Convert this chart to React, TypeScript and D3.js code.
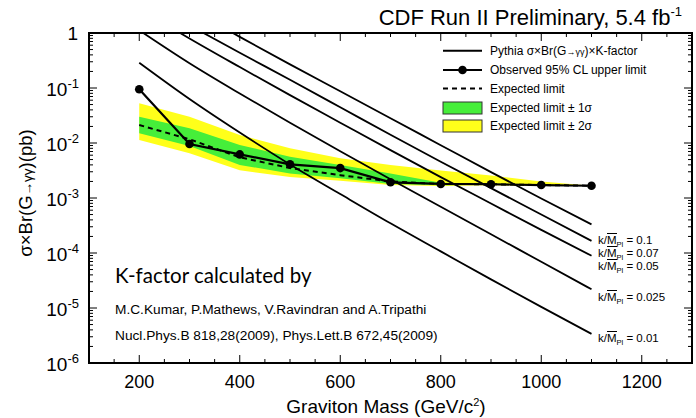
import React from 'react';
import * as d3 from 'd3';

// graviton masses (GeV/c^2)
const masses = [200, 300, 400, 500, 600, 700, 800, 900, 1000, 1100];

// limits in pb
const observed = [0.095, 0.0096, 0.0062, 0.0041, 0.0035, 0.00193, 0.0018, 0.00178, 0.00172, 0.00167];
const expected = [0.0212, 0.0117, 0.0055, 0.0035, 0.0026, 0.002, 0.0018, 0.00178, 0.00172, 0.00167];
const band1Hi = [0.0301, 0.0185, 0.0092, 0.00565, 0.004, 0.0028, 0.0019, 0.00182, 0.00175, 0.00167];
const band1Lo = [0.015, 0.0088, 0.004, 0.0028, 0.00228, 0.0018, 0.0017, 0.00174, 0.0017, 0.00167];
const band2Hi = [0.0526, 0.0301, 0.014, 0.008, 0.00526, 0.004, 0.00316, 0.00257, 0.002, 0.00167];
const band2Lo = [0.0113, 0.0065, 0.0032, 0.0024, 0.00206, 0.00172, 0.00166, 0.0017, 0.00168, 0.00167];

// Pythia sigma x Br x K-factor, one per k/M_Pl
const pythia0p1 = [9.0, 2.8, 0.851, 0.269, 0.0871, 0.0282, 0.00912, 0.00295, 0.000977, 0.000331];
const pythia0p07 = [4.4, 1.38, 0.437, 0.141, 0.0447, 0.0141, 0.00457, 0.00151, 0.000501, 0.000166];
const pythia0p05 = [2.8, 0.794, 0.24, 0.0741, 0.0234, 0.00741, 0.0024, 0.000794, 0.000263, 0.0000891];
const pythia0p025 = [1.12, 0.282, 0.0794, 0.0234, 0.00708, 0.00219, 0.000692, 0.000219, 0.0000692, 0.0000219];
const pythia0p01 = [0.288, 0.0631, 0.0155, 0.00407, 0.00118, 0.000347, 0.000107, 0.0000331, 0.0000105, 0.00000339];

const couplings = ['0.1', '0.07', '0.05', '0.025', '0.01'];
const xTickLabels = [200, 400, 600, 800, 1000, 1200];

const W = 696, H = 418;
const L = 89, R = 692, T = 33, B = 363;
const font = '"Liberation Sans", Arial, Helvetica, sans-serif';
const GREEN = '#46ee3a';
const YELLOW = '#ffff1a';

export default function App() {
  const x = d3.scaleLinear().domain([100, 1300]).range([L, R]);
  const y = d3.scaleLog().domain([1e-6, 1]).range([B, T]);

  const line = d3.line<number>().x((d, i) => x(masses[i])).y(d => y(d));
  const smooth = d3.line<number>().x((d, i) => x(masses[i])).y(d => y(d)).curve(d3.curveMonotoneX);
  const area = (lo: number[], hi: number[]) =>
    d3.area<number>().x((d, i) => x(masses[i])).y0((d, i) => y(lo[i])).y1(d => y(d))(hi) || '';

  const theory = [pythia0p1, pythia0p07, pythia0p05, pythia0p025, pythia0p01];
  const labelY = [240, 253, 266, 297, 338];

  const yTicks = y.ticks();
  const xMinor = d3.range(100, 1301, 50);
  const isDecade = (t: number) => Math.abs(Math.log10(t) - Math.round(Math.log10(t))) < 1e-6;

  const legendRows = [50.7, 70, 88.5, 108, 126];

  return (
    <svg width={W} height={H} style={{ position: 'absolute', left: 0, top: 0, background: '#fff' }}
      fontFamily={font}>
      <defs>
        <clipPath id="plot"><rect x={L} y={T} width={R - L} height={B - T} /></clipPath>
      </defs>

      <g clipPath="url(#plot)">
        <path d={area(band2Lo, band2Hi)} fill={YELLOW} />
        <path d={area(band1Lo, band1Hi)} fill={GREEN} />
        <path d={line(expected) || ''} fill="none" stroke="#000" strokeWidth={2} strokeDasharray="5,4" />
        {theory.map((s, i) => (
          <path key={i} d={smooth(s) || ''} fill="none" stroke="#000" strokeWidth={1.8} />
        ))}
        <path d={line(observed) || ''} fill="none" stroke="#000" strokeWidth={2.2} />
        {observed.map((v, i) => (
          <circle key={i} cx={x(masses[i])} cy={y(v)} r={4.3} fill="#000" />
        ))}
      </g>

      {/* frame + ticks */}
      <rect x={L} y={T} width={R - L} height={B - T} fill="none" stroke="#000" strokeWidth={2} />
      {yTicks.map((t, i) => {
        const len = isDecade(t) ? 8 : 4;
        return (
          <g key={i} stroke="#000" strokeWidth={1}>
            <line x1={L} x2={L + len} y1={y(t)} y2={y(t)} />
            <line x1={R} x2={R - len} y1={y(t)} y2={y(t)} />
          </g>
        );
      })}
      {xMinor.map((m, i) => {
        const len = m % 200 === 0 ? 8 : 4;
        return (
          <g key={i} stroke="#000" strokeWidth={1}>
            <line x1={x(m)} x2={x(m)} y1={B} y2={B - len} />
            <line x1={x(m)} x2={x(m)} y1={T} y2={T + len} />
          </g>
        );
      })}

      {/* y tick labels */}
      {yTicks.filter(isDecade).map((t, i) => {
        const e = Math.round(Math.log10(t));
        return e === 0 ? (
          <text key={i} x={78} y={y(t) + 7} textAnchor="end" fontSize={19}>1</text>
        ) : (
          <text key={i} x={79} y={y(t) + 8} textAnchor="end" fontSize={19}>
            10<tspan fontSize={13} dy={-8}>{e}</tspan>
          </text>
        );
      })}

      {/* x tick labels */}
      {xTickLabels.map((m, i) => (
        <text key={i} x={x(m)} y={388} textAnchor="middle" fontSize={18}>{m}</text>
      ))}

      {/* axis titles */}
      <text x={386} y={413} textAnchor="middle" fontSize={19}>
        Graviton Mass (GeV/c<tspan fontSize={11} dy={-7}>2</tspan><tspan dy={7}>)</tspan>
      </text>
      <text transform="translate(32,193) rotate(-90)" textAnchor="middle" fontSize={18.5}>
        σ×Br(G<tspan fontSize={13.5}>→γγ</tspan>)(pb)
      </text>

      {/* title */}
      <text x={682} y={25} textAnchor="end" fontSize={22}>
        CDF Run II Preliminary, 5.4 fb<tspan fontSize={13} dy={-9}>-1</tspan>
      </text>

      {/* legend */}
      <g fontSize={12}>
        <line x1={443} x2={482} y1={legendRows[0]} y2={legendRows[0]} stroke="#000" strokeWidth={2} />
        <text x={490} y={legendRows[0] + 4}>Pythia σ×Br(G<tspan fontSize={9}>→γγ</tspan>)×K-factor</text>
        <line x1={443} x2={482} y1={legendRows[1]} y2={legendRows[1]} stroke="#000" strokeWidth={2} />
        <circle cx={462.5} cy={legendRows[1]} r={4.3} fill="#000" />
        <text x={490} y={legendRows[1] + 4}>Observed 95% CL upper limit</text>
        <line x1={443} x2={482} y1={legendRows[2]} y2={legendRows[2]} stroke="#000" strokeWidth={2} strokeDasharray="5,4" />
        <text x={490} y={legendRows[2] + 4}>Expected limit</text>
        <rect x={443} y={legendRows[3] - 6} width={39} height={12} fill={GREEN} stroke="#333" strokeWidth={1} />
        <text x={490} y={legendRows[3] + 4}>Expected limit ± 1σ</text>
        <rect x={443} y={legendRows[4] - 6} width={39} height={12} fill={YELLOW} stroke="#333" strokeWidth={1} />
        <text x={490} y={legendRows[4] + 4}>Expected limit ± 2σ</text>
      </g>

      {/* coupling labels */}
      {couplings.map((c, i) => (
        <g key={i}>
          <text x={598} y={labelY[i] + 4} fontSize={11.5}>
            k/M<tspan fontSize={7.5} dy={3}>Pl</tspan><tspan dy={-3}> = {c}</tspan>
          </text>
          <line x1={607} x2={617} y1={labelY[i] - 6.5} y2={labelY[i] - 6.5} stroke="#000" strokeWidth={1} />
        </g>
      ))}

      {/* K-factor note */}
      <text x={115} y={283} fontSize={20.5} fontFamily="Lato, 'Open Sans', sans-serif">K-factor calculated by</text>
      <text x={115} y={314} fontSize={13.7}>M.C.Kumar, P.Mathews, V.Ravindran and A.Tripathi</text>
      <text x={115} y={340} fontSize={13.7}>Nucl.Phys.B 818,28(2009), Phys.Lett.B 672,45(2009)</text>
    </svg>
  );
}
